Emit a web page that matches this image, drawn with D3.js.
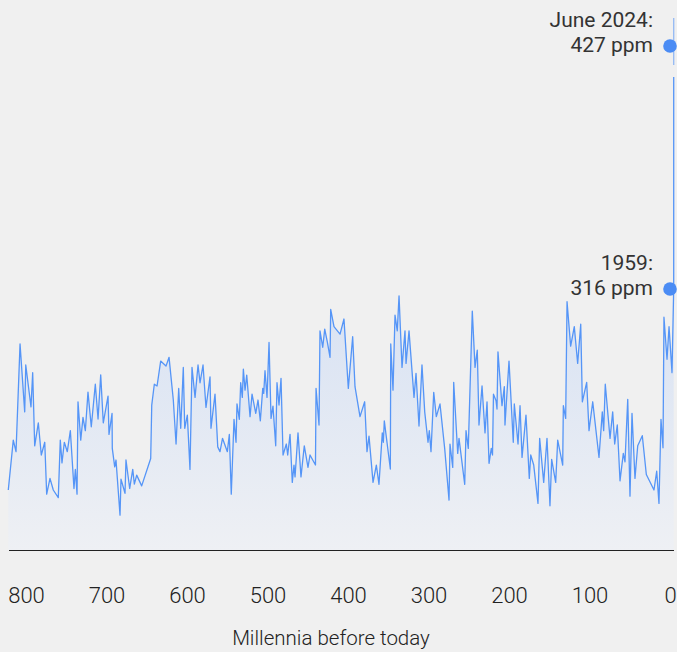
<!DOCTYPE html>
<html>
<head>
<meta charset="utf-8">
<script src="https://cdn.jsdelivr.net/npm/d3@7"></script>
<style>
  html, body { margin: 0; padding: 0; background: #f0f0f0; }
  svg { display: block; }
  text { font-family: Roboto, "Liberation Sans", Arial, sans-serif; font-weight: 300; fill: #222; }
</style>
</head>
<body>
<svg id="chart" width="677" height="652"></svg>
<script>
// Ice-core CO2 record: age in thousands of years before today, CO2 in ppm
const iceKa = [822.0,815.8,812.4,807.4,801.6,800.3,793.8,791.7,789.2,784.7,
781.0,776.7,774.3,770.2,766.1,759.9,757.4,755.3,752.4,748.7,
744.9,740.4,738.7,736.6,735.4,732.0,729.2,726.3,723.0,718.9,
713.9,710.5,707.2,704.0,698.1,696.9,693.1,692.8,689.8,688.2,
683.2,682.0,677.0,675.8,671.2,667.4,665.4,662.5,656.3,645.1,
643.8,640.6,637.2,632.7,626.1,622.3,617.0,613.6,610.3,607.8,
604.6,602.8,599.6,596.3,593.8,590.0,586.3,583.8,580.1,576.4,
571.4,570.2,565.2,561.8,559.0,555.9,549.9,547.4,545.0,541.6,
539.1,537.9,535.0,533.3,531.3,530.0,527.9,525.8,521.7,519.2,
514.6,511.8,508.9,505.9,504.7,503.1,500.6,498.1,495.6,493.2,
489.8,488.2,485.7,483.2,480.7,476.6,474.9,472.0,469.2,467.1,
465.8,462.1,458.4,454.3,449.7,447.2,440.4,439.7,436.0,434.8,
431.4,428.9,425.7,422.3,421.5,417.4,409.9,405.0,399.6,394.2,
391.3,385.1,379.3,376.4,373.9,368.9,364.8,361.5,357.4,356.1,
354.9,347.4,346.9,344.1,341.6,338.8,336.6,332.9,329.2,327.9,
324.2,318.0,315.5,311.8,308.1,304.7,300.6,299.0,296.9,293.5,
290.3,285.7,279.9,274.5,273.3,269.9,268.7,263.7,262.1,255.0,
253.4,250.6,245.6,242.2,239.4,237.3,233.5,229.8,227.3,224.8,
222.0,220.5,219.3,216.1,214.9,213.7,208.7,205.8,205.0,200.0,
194.7,193.4,188.8,186.3,183.8,178.9,174.8,173.0,169.3,168.6,
164.0,161.9,156.9,152.8,149.1,147.0,142.0,139.5,133.3,132.5,
129.6,127.9,123.4,118.9,114.7,110.9,108.9,103.5,100.6,96.0,
88.2,84.1,82.4,80.4,74.5,71.2,68.7,65.5,62.1,58.0,
55.9,52.5,49.7,47.2,43.5,40.1,34.4,29.4,19.9,16.5,
13.7,11.2,8.7,7.5,3.7,1.2,-2.5];

const icePpm = [224.2,247.0,241.7,290.9,259.9,281.3,262.2,277.8,244.4,254.9,
240.2,246.0,222.3,229.5,224.2,220.7,247.0,236.6,246.0,241.7,
251.3,224.9,233.6,222.3,264.5,247.0,257.4,251.3,268.9,253.1,
272.5,256.6,276.8,254.9,267.1,249.6,259.2,243.2,234.8,237.9,
212.7,229.2,222.7,237.9,224.9,233.6,226.9,231.0,226.1,238.6,
263.0,272.5,271.7,283.1,280.8,284.8,265.3,245.2,270.6,252.4,
280.2,252.4,258.4,233.6,280.2,266.5,281.3,273.2,281.3,261.9,
275.9,252.4,268.0,243.9,241.7,247.8,241.7,249.6,222.3,256.5,
246.0,263.5,256.5,273.2,266.5,279.4,269.8,276.7,257.7,268.0,
259.2,265.3,255.8,270.6,268.3,278.7,266.5,291.6,256.9,262.5,
244.4,273.2,263.0,275.2,240.2,245.2,240.2,249.6,227.7,235.6,
230.2,250.3,230.2,244.4,234.5,240.2,235.6,270.6,253.9,296.9,
289.4,297.7,291.9,284.8,306.7,298.8,295.4,302.3,270.6,294.2,
271.4,257.7,264.5,241.7,248.8,227.7,235.6,226.8,250.3,246.0,
255.8,233.8,290.9,269.8,304.1,296.9,312.9,280.2,296.9,282.0,
296.9,266.5,277.5,253.4,281.3,259.9,246.0,251.3,241.7,268.8,
257.7,263.5,243.2,219.6,245.2,234.5,273.4,240.9,247.8,226.8,
251.3,243.2,305.9,280.2,288.1,253.9,271.7,250.3,264.5,236.4,
243.2,240.2,268.0,265.0,261.2,287.3,262.7,271.4,253.9,283.1,
246.0,263.5,245.2,262.7,239.1,258.4,229.5,240.2,235.6,233.3,
218.1,247.8,227.7,247.8,217.0,238.2,227.7,247.0,235.6,262.7,
256.9,310.2,289.9,298.8,282.0,299.9,264.5,273.4,251.3,264.5,
239.1,259.9,251.3,272.5,247.8,259.9,245.2,253.9,228.4,240.9,
237.1,265.6,221.4,259.2,229.5,244.4,249.0,231.3,224.2,232.8,
218.1,256.5,243.5,303.1,283.9,298.8,277.8];

// Modern instrumental record (drawn at the right edge)
const modernKa = [-4.6, -4.6];
const modernPpm = [316, 412.8];
const modernFadeKa = [-4.6, -4.6];
const modernFadePpm = [418.3, 439.8];

// Annotated points
const markerKa = [0, 0];
const markerPpm = [316, 427];
const markerLabels = [["1959:", "316 ppm"], ["June 2024:", "427 ppm"]];

const tickValues = [800, 700, 600, 500, 400, 300, 200, 100, 0];
const axisTitle = "Millennia before today";

const svg = d3.select("#chart");
const x = d3.scaleLinear().domain([800, 0]).range([26, 670]);
const y = d3.scaleLinear().domain([196.8, 427]).range([550, 46]);

const ice = d3.zip(iceKa, icePpm);
const modern = d3.zip(modernKa, modernPpm);
const fade = d3.zip(modernFadeKa, modernFadePpm);

const defs = svg.append("defs");
const grad = defs.append("linearGradient").attr("id", "areaGrad")
  .attr("gradientUnits", "userSpaceOnUse")
  .attr("x1", 0).attr("x2", 0).attr("y1", y(313)).attr("y2", y(196.8));
grad.append("stop").attr("offset", "0%").attr("stop-color", "#d8e2f3");
grad.append("stop").attr("offset", "100%").attr("stop-color", "#eef0f4");

const area = d3.area()
  .x(d => x(d[0]))
  .y0(y(196.8))
  .y1(d => y(d[1]));

svg.append("path")
  .datum(ice.concat(modern))
  .attr("d", area)
  .attr("fill", "url(#areaGrad)");

const line = d3.line().x(d => x(d[0])).y(d => y(d[1]));

svg.append("path")
  .datum(ice.concat(modern))
  .attr("d", line)
  .attr("fill", "none")
  .attr("stroke", "#5595f7")
  .attr("stroke-width", 1.3)
  .attr("stroke-linejoin", "round");

svg.append("path")
  .datum(fade)
  .attr("d", line)
  .attr("fill", "none")
  .attr("stroke", "#5595f7")
  .attr("stroke-opacity", 0.6)
  .attr("stroke-width", 1.3);

svg.append("line")
  .attr("x1", 9).attr("x2", 674)
  .attr("y1", y(196.8) + 0.5).attr("y2", y(196.8) + 0.5)
  .attr("stroke", "#222").attr("stroke-width", 1);

const axis = d3.axisBottom(x).tickValues(tickValues).tickSize(0).tickPadding(0)
  .tickFormat(d3.format("d"));
const gAxis = svg.append("g").attr("transform", "translate(0,603)").call(axis);
gAxis.select(".domain").remove();
gAxis.selectAll("text")
  .attr("dy", 0).attr("y", 0)
  .style("font-family", "Roboto, 'Liberation Sans', Arial, sans-serif")
  .style("font-weight", 300)
  .style("font-size", "22px")
  .attr("fill", "#222");

svg.append("text")
  .attr("x", 331).attr("y", 645)
  .attr("text-anchor", "middle")
  .style("font-size", "20.5px")
  .text(axisTitle);

markerKa.forEach((k, i) => {
  svg.append("circle")
    .attr("cx", x(k)).attr("cy", y(markerPpm[i])).attr("r", 6.8)
    .attr("fill", "#4b8cf4");
  const cy = y(markerPpm[i]);
  svg.append("text")
    .attr("x", 653).attr("y", cy - 19)
    .attr("text-anchor", "end")
    .style("font-size", "21px")
    .style("font-weight", 400)
    .attr("fill", "#333")
    .style("fill", "#333")
    .text(markerLabels[i][0]);
  svg.append("text")
    .attr("x", 653).attr("y", cy + 6)
    .attr("text-anchor", "end")
    .style("font-size", "21px")
    .style("font-weight", 400)
    .style("fill", "#333")
    .text(markerLabels[i][1]);
});
</script>
</body>
</html>
